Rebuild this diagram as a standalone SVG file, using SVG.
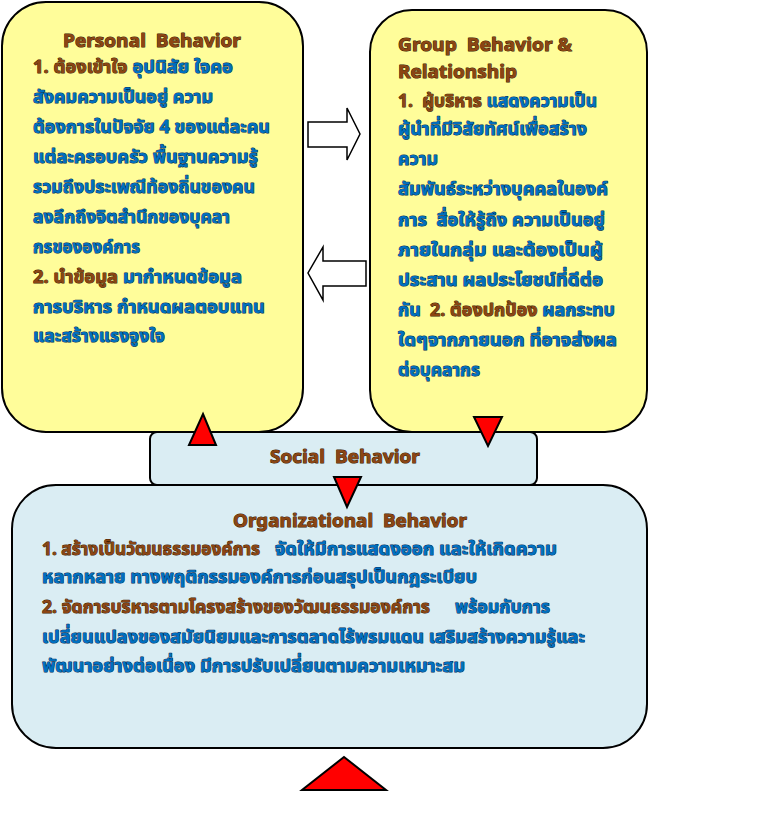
<svg xmlns="http://www.w3.org/2000/svg" width="762" height="817" viewBox="0 0 762 817" xml:space="preserve">
<style>
.box{stroke:#000;stroke-width:2}
.yel{fill:#FFFD9A}
.blu{fill:#DAEDF3}
.tri{fill:#FF0000;stroke:#000;stroke-width:2;stroke-linejoin:miter}
.blk{fill:#fff;stroke:#000;stroke-width:1.5}
text{font-family:Tahoma,"Noto Sans Thai","Noto Sans Thai UI",Garuda,Loma,"DejaVu Sans",sans-serif;font-weight:bold;paint-order:stroke;stroke-width:1;stroke-linejoin:round;white-space:pre}
.t{font-size:18px;fill:#8B4513;stroke:#3a1a00}
.b{font-size:18px;fill:#0070C0;stroke:#002850}
.br{fill:#8B4513;stroke:#3a1a00}
</style>
<rect width="762" height="817" fill="#fff"/>
<g id="personal">
<rect class="box yel" x="2" y="2" width="301" height="430" rx="44" ry="44"/>
<text class="t" x="63" y="47" textLength="178" lengthAdjust="spacingAndGlyphs">Personal  Behavior</text>
<text class="b" x="33" y="73" textLength="200" lengthAdjust="spacingAndGlyphs"><tspan class="br">1. ต้องเข้าใจ</tspan> อุปนิสัย ใจคอ</text>
<text class="b" x="33" y="103" textLength="180" lengthAdjust="spacingAndGlyphs">สังคมความเป็นอยู่ ความ</text>
<text class="b" x="33" y="133" textLength="237" lengthAdjust="spacingAndGlyphs">ต้องการในปัจจัย 4 ของแต่ละคน</text>
<text class="b" x="33" y="163" textLength="225" lengthAdjust="spacingAndGlyphs">แต่ละครอบครัว พื้นฐานความรู้</text>
<text class="b" x="33" y="193" textLength="222" lengthAdjust="spacingAndGlyphs">รวมถึงประเพณีท้องถิ่นของคน</text>
<text class="b" x="33" y="223" textLength="197" lengthAdjust="spacingAndGlyphs">ลงลึกถึงจิตสำนึกของบุคลา</text>
<text class="b" x="33" y="253" textLength="107" lengthAdjust="spacingAndGlyphs">กรขององค์การ</text>
<text class="b" x="33" y="283" textLength="209" lengthAdjust="spacingAndGlyphs"><tspan class="br">2. นำข้อมูล</tspan> มากำหนดข้อมูล</text>
<text class="b" x="33" y="313" textLength="232" lengthAdjust="spacingAndGlyphs">การบริหาร กำหนดผลตอบแทน</text>
<text class="b" x="33" y="342" textLength="132" lengthAdjust="spacingAndGlyphs">และสร้างแรงจูงใจ</text>
</g>
<g id="group">
<rect class="box yel" x="370" y="10" width="277" height="422" rx="42" ry="42"/>
<text class="t" x="398" y="51" textLength="174" lengthAdjust="spacingAndGlyphs">Group  Behavior &amp;</text>
<text class="t" x="398" y="78" textLength="119" lengthAdjust="spacingAndGlyphs">Relationship</text>
<text class="b" x="398" y="107" textLength="199" lengthAdjust="spacingAndGlyphs"><tspan class="br">1.  ผู้บริหาร</tspan> แสดงความเป็น</text>
<text class="b" x="398" y="135" textLength="189" lengthAdjust="spacingAndGlyphs">ผู้นำที่มีวิสัยทัศน์เพื่อสร้าง</text>
<text class="b" x="398" y="165" textLength="40" lengthAdjust="spacingAndGlyphs">ความ</text>
<text class="b" x="398" y="195" textLength="210" lengthAdjust="spacingAndGlyphs">สัมพันธ์ระหว่างบุคคลในองค์</text>
<text class="b" x="398" y="226" textLength="207" lengthAdjust="spacingAndGlyphs">การ  สื่อให้รู้ถึง ความเป็นอยู่</text>
<text class="b" x="398" y="256" textLength="205" lengthAdjust="spacingAndGlyphs">ภายในกลุ่ม และต้องเป็นผู้</text>
<text class="b" x="398" y="286" textLength="205" lengthAdjust="spacingAndGlyphs">ประสาน ผลประโยชน์ที่ดีต่อ</text>
<text class="b" x="398" y="316" textLength="217" lengthAdjust="spacingAndGlyphs">กัน  <tspan class="br">2. ต้องปกป้อง</tspan> ผลกระทบ</text>
<text class="b" x="398" y="346" textLength="219" lengthAdjust="spacingAndGlyphs">ใดๆจากภายนอก ที่อาจส่งผล</text>
<text class="b" x="398" y="376" textLength="82" lengthAdjust="spacingAndGlyphs">ต่อบุคลากร</text>
</g>
<g id="social">
<rect class="box blu" x="150" y="432" width="387" height="53" rx="7" ry="7"/>
<text class="t" x="270" y="463" textLength="150" lengthAdjust="spacingAndGlyphs">Social  Behavior</text>
</g>
<g id="organizational">
<rect class="box blu" x="12" y="485" width="635" height="263" rx="44" ry="44"/>
<text class="t" x="233" y="527" textLength="234" lengthAdjust="spacingAndGlyphs">Organizational  Behavior</text>
<text class="b br" x="42" y="555" textLength="218" lengthAdjust="spacingAndGlyphs">1. สร้างเป็นวัฒนธรรมองค์การ</text>
<text class="b" x="275" y="555" textLength="282" lengthAdjust="spacingAndGlyphs">จัดให้มีการแสดงออก และให้เกิดความ</text>
<text class="b" x="42" y="583" textLength="435" lengthAdjust="spacingAndGlyphs">หลากหลาย ทางพฤติกรรมองค์การก่อนสรุปเป็นกฎระเบียบ</text>
<text class="b br" x="42" y="613" textLength="388" lengthAdjust="spacingAndGlyphs">2. จัดการบริหารตามโครงสร้างของวัฒนธรรมองค์การ</text>
<text class="b" x="455" y="613" textLength="95" lengthAdjust="spacingAndGlyphs">พร้อมกับการ</text>
<text class="b" x="42" y="643" textLength="543" lengthAdjust="spacingAndGlyphs">เปลี่ยนแปลงของสมัยนิยมและการตลาดไร้พรมแดน เสริมสร้างความรู้และ</text>
<text class="b" x="42" y="672" textLength="423" lengthAdjust="spacingAndGlyphs">พัฒนาอย่างต่อเนื่อง มีการปรับเปลี่ยนตามความเหมาะสม</text>
</g>
<g id="connectors">
<polygon class="blk" points="308,122 347,122 347,108 360,134 347,160 347,147 308,147"/>
<polygon class="blk" points="366,261 323,261 323,247 308,273 323,300 323,286 366,286"/>
<polygon class="tri" points="203,414 216,445 189,445"/>
<polygon class="tri" points="474,417 502,417 488,446"/>
<polygon class="tri" points="334,477 361,477 347,507"/>
<polygon class="tri" points="344,757 386,790 302,790"/>
</g>
</svg>
